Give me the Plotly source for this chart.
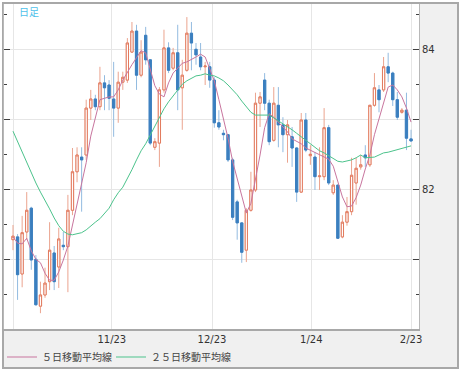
import plotly.graph_objects as go

open_ = [81.29, 81.33, 80.80, 81.40, 81.74, 81.01, 80.34, 80.50, 80.69, 81.10,
         80.90, 81.21, 81.19, 81.71, 82.26, 82.47, 82.50, 83.17, 83.30, 83.19,
         83.53, 83.50, 83.30, 83.17, 83.54, 83.57, 83.97, 84.27, 83.64, 84.21,
         83.86, 82.61, 82.67, 83.43, 84.03, 83.74, 83.96, 83.46, 83.71, 84.24,
         84.01, 83.90, 83.76, 83.76, 83.57, 82.96, 82.81, 82.79, 82.43, 81.83,
         81.53, 81.14, 81.71, 82.00, 83.24, 83.57, 83.24, 82.71, 83.21, 82.93,
         82.79, 82.76, 82.60, 81.97, 83.00, 82.49, 82.47, 82.19, 82.19, 82.89,
         81.96, 82.07, 81.33, 81.54, 81.69, 82.10, 82.33, 82.50, 82.36, 83.21,
         83.43, 83.43, 83.76, 83.67, 83.29, 83.11, 83.14, 82.73]
high = [81.50, 81.37, 81.63, 81.97, 81.76, 81.07, 80.69, 80.89, 81.54, 81.20,
        81.46, 81.40, 81.93, 82.60, 82.61, 82.61, 83.29, 83.43, 83.36, 83.76,
        83.64, 83.57, 83.83, 83.69, 83.69, 84.17, 84.40, 84.36, 84.14, 84.33,
        83.86, 82.74, 83.47, 84.29, 84.11, 84.03, 84.36, 83.86, 84.47, 84.40,
        84.10, 84.10, 83.83, 83.83, 83.61, 83.14, 82.86, 82.79, 82.46, 81.86,
        81.54, 81.74, 82.26, 83.39, 83.40, 83.67, 83.29, 83.47, 83.47, 83.04,
        83.00, 82.90, 82.61, 83.10, 83.10, 82.64, 82.54, 82.61, 83.17, 82.93,
        82.14, 82.07, 81.64, 81.90, 82.46, 82.46, 82.50, 82.64, 83.21, 83.67,
        83.50, 83.90, 83.96, 83.69, 83.40, 83.17, 83.39, 82.86]
low = [81.14, 80.43, 80.61, 81.29, 80.86, 80.35, 80.24, 80.46, 80.57, 80.57,
       80.60, 81.14, 80.54, 81.64, 82.11, 81.69, 82.43, 83.00, 83.14, 83.14,
       83.14, 83.14, 82.76, 82.96, 83.43, 83.53, 83.96, 83.43, 83.61, 83.79,
       82.64, 82.57, 82.33, 83.39, 83.67, 83.71, 83.14, 82.86, 83.69, 83.71,
       83.79, 83.71, 83.50, 83.46, 82.89, 82.86, 82.71, 82.40, 81.57, 81.29,
       80.96, 80.97, 81.69, 81.97, 82.90, 83.14, 82.64, 82.69, 82.61, 82.54,
       82.39, 82.33, 81.83, 81.96, 82.54, 82.36, 82.00, 82.00, 82.14, 82.07,
       81.93, 81.31, 81.31, 81.49, 81.64, 81.79, 82.29, 82.33, 82.33, 83.19,
       83.11, 83.40, 83.54, 83.20, 83.00, 83.09, 82.57, 82.70]
close = [81.34, 80.79, 81.39, 81.71, 81.00, 80.36, 80.50, 80.67, 81.14, 80.69,
         81.30, 81.19, 81.71, 82.26, 82.50, 82.43, 83.17, 83.30, 83.19, 83.53,
         83.46, 83.31, 83.17, 83.54, 83.61, 84.10, 84.27, 83.64, 83.97, 83.86,
         82.67, 82.69, 83.43, 84.03, 83.71, 83.96, 83.43, 83.64, 84.24, 84.10,
         83.93, 83.76, 83.77, 83.57, 82.96, 82.90, 82.79, 82.43, 81.61, 81.53,
         81.11, 81.71, 82.00, 83.24, 83.33, 83.24, 82.69, 83.24, 82.93, 82.79,
         82.93, 82.60, 81.97, 83.00, 82.57, 82.51, 82.19, 82.20, 82.89, 82.10,
         82.07, 81.31, 81.54, 81.69, 82.21, 82.31, 82.36, 82.46, 83.21, 83.46,
         83.29, 83.76, 83.67, 83.29, 83.04, 83.14, 82.74, 82.70]
ma5 = [81.33, 81.24, 81.23, 81.31, 81.13, 81.01, 80.96, 80.81, 80.71, 80.71,
       80.83, 81.00, 81.20, 81.50, 81.81, 82.11, 82.39, 82.77, 83.03, 83.29,
       83.31, 83.33, 83.33, 83.43, 83.57, 83.69, 83.79, 83.89, 83.99, 83.96,
       83.71, 83.49, 83.37, 83.33, 83.53, 83.67, 83.74, 83.81, 83.83, 83.86,
       83.90, 83.94, 83.90, 83.73, 83.56, 83.29, 83.03, 82.74, 82.41, 82.16,
       81.91, 81.67, 81.81, 82.14, 82.50, 82.89, 83.09, 83.04, 82.97, 82.90,
       82.83, 82.73, 82.69, 82.66, 82.60, 82.57, 82.53, 82.50, 82.47, 82.44,
       82.34, 82.13, 81.90, 81.76, 81.77, 81.89, 82.07, 82.30, 82.50, 82.79,
       83.03, 83.27, 83.47, 83.50, 83.43, 83.33, 83.17, 82.97]
ma25 = [82.84, 82.69, 82.54, 82.40, 82.26, 82.10, 81.97, 81.86, 81.73, 81.60,
        81.49, 81.41, 81.37, 81.36, 81.37, 81.39, 81.43, 81.49, 81.54, 81.59,
        81.66, 81.74, 81.86, 81.96, 82.04, 82.16, 82.29, 82.43, 82.56, 82.66,
        82.79, 82.91, 83.04, 83.16, 83.26, 83.34, 83.43, 83.51, 83.56, 83.60,
        83.63, 83.64, 83.66, 83.64, 83.63, 83.60, 83.56, 83.50, 83.43, 83.36,
        83.27, 83.19, 83.11, 83.07, 83.07, 83.07, 83.07, 83.03, 82.99, 82.94,
        82.90, 82.86, 82.81, 82.76, 82.71, 82.66, 82.61, 82.56, 82.53, 82.49,
        82.46, 82.41, 82.40, 82.41, 82.43, 82.46, 82.50, 82.46, 82.46, 82.47,
        82.50, 82.53, 82.54, 82.56, 82.57, 82.59, 82.61, 82.63]
x_tick_labels = ["", "11/23", "12/23", "1/24", "2/23"]
y_tick_labels = ["", "82", "", "84"]
legend_names = ["５日移動平均線", "２５日移動平均線"]

idx = list(range(len(close)))
body_hi = [max(o, c) for o, c in zip(open_, close)]
body_lo = [min(o, c) for o, c in zip(open_, close)]

UP = "#e27a5e"
DN = "#3b7fbf"
UP_W = "#eba48f"
DN_W = "#93bbe0"

fig = go.Figure()
# wicks (lighter)
fig.add_trace(go.Candlestick(
    x=idx, open=open_, high=high, low=low, close=close,
    increasing=dict(line=dict(color=UP_W, width=1), fillcolor="white"),
    decreasing=dict(line=dict(color=DN_W, width=1), fillcolor=DN_W),
    showlegend=False, hoverinfo="skip"))
# bodies
fig.add_trace(go.Candlestick(
    x=idx, open=open_, high=body_hi, low=body_lo, close=close,
    increasing=dict(line=dict(color=UP, width=1), fillcolor="white"),
    decreasing=dict(line=dict(color=DN, width=1), fillcolor=DN),
    showlegend=False, hoverinfo="skip"))
fig.add_trace(go.Scatter(x=idx, y=ma5, mode="lines", name=legend_names[0],
                         line=dict(color="#c8759e", width=1), legend="legend"))
fig.add_trace(go.Scatter(x=idx, y=ma25, mode="lines", name=legend_names[1],
                         line=dict(color="#4cc38c", width=1), legend="legend2"))

W, H = 415.0, 325.0  # plot area size in px (from x=4, y=4)
def px_x(p):
    return (p - 4) / W
def px_y(p):
    return (329 - p) / H

legend_font = dict(family="Noto Sans CJK JP", size=10, color="#444444")

fig.update_layout(
    width=462, height=373,
    margin=dict(l=4, r=43, t=4, b=44, autoexpand=False),
    paper_bgcolor="white",
    plot_bgcolor="white",
    boxmode="overlay",
    font=dict(family="DejaVu Sans", size=10, color="#333333"),
    shapes=[
        dict(type="rect", xref="paper", yref="paper", layer="below",
             x0=px_x(3), x1=px_x(458), y0=px_y(368), y1=px_y(3),
             fillcolor="#f0f0f0", line=dict(color="#a8a8a8", width=2)),
        dict(type="rect", xref="paper", yref="paper", layer="below",
             x0=0, x1=1, y0=0, y1=1, fillcolor="white", line=dict(width=0)),
    ],
    annotations=[dict(text="日足", xref="paper", yref="paper",
                      x=px_x(17), y=px_y(12), xanchor="left", yanchor="middle",
                      showarrow=False,
                      font=dict(family="Noto Sans CJK JP", size=10, color="#4fc1ea"))],
    legend=dict(orientation="h", x=px_x(2), y=px_y(357), xanchor="left", yanchor="middle",
                font=legend_font, bgcolor="rgba(0,0,0,0)"),
    legend2=dict(orientation="h", x=px_x(111), y=px_y(357), xanchor="left", yanchor="middle",
                 font=legend_font, bgcolor="rgba(0,0,0,0)"),
    xaxis=dict(range=[-1.967, 88.74], rangeslider=dict(visible=False),
               tickvals=[0, 21.6, 43.5, 65.2, 87], ticktext=x_tick_labels,
               showgrid=True, gridcolor="#e6e6e6", gridwidth=1,
               ticks="", showline=True, linecolor="#a8a8a8", linewidth=2,
               zeroline=False, tickfont=dict(size=10, color="#333333")),
    yaxis=dict(range=[80.014, 84.657], side="right",
               tickvals=[81, 82, 83, 84], ticktext=y_tick_labels,
               showgrid=True, gridcolor="#e6e6e6", gridwidth=1,
               ticks="inside", ticklen=6, tickcolor="#404040", tickwidth=1,
               showline=True, linecolor="#b8b8b8", linewidth=1, mirror="allticks",
               zeroline=False, tickfont=dict(size=10, color="#333333"),
               minor=dict(tickvals=[80.5, 81.5, 82.5, 83.5, 84.5], ticks="inside",
                          ticklen=3, tickcolor="#404040", showgrid=False)),
)

fig.write_html("out.html", config={"displayModeBar": False},
               post_script="document.body.style.margin='0';document.body.style.overflow='hidden';")
